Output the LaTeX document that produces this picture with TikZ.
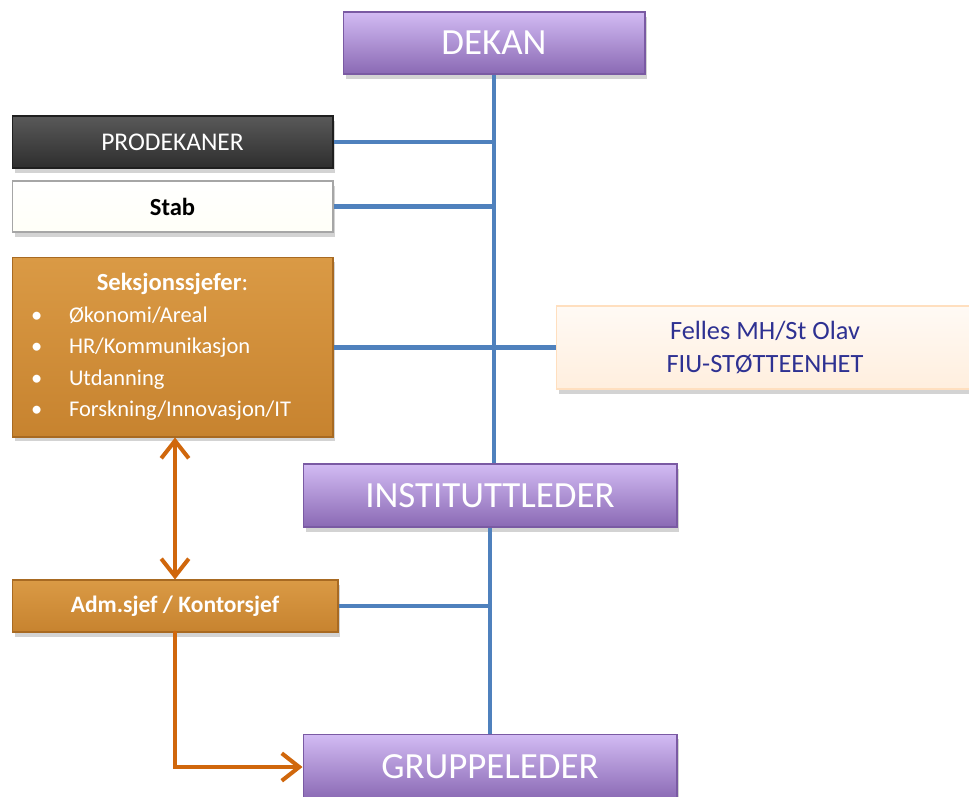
\documentclass[tikz,border=0pt]{standalone}
\usepackage{fontspec}
\setmainfont{Carlito}
\usetikzlibrary{shadows,arrows.meta}

\definecolor{lineblue}{HTML}{4F81BD}
\definecolor{arrorange}{HTML}{D0670C}
\definecolor{lilatop}{HTML}{D2BBF3}
\definecolor{lilabot}{HTML}{8A69B4}
\definecolor{lilaedge}{HTML}{7A5AA3}
\definecolor{orangetop}{HTML}{DA9A45}
\definecolor{orangebot}{HTML}{C7832F}
\definecolor{orangeedge}{HTML}{A86A22}
\definecolor{fellestext}{HTML}{2E3192}

% one bullet line in the section box
\newcommand\SeksItem[1]{\makebox[6.42cm][l]{\hspace{0.38cm}\makebox[0.76cm][l]{\textbullet}#1}}

\begin{document}
\begin{tikzpicture}[x=0.02cm,y=-0.02cm]
  \tikzset{>={Straight Barb[length=3.5mm,width=5.5mm]}}
  \tikzset{
    box/.style={rectangle,inner sep=0pt,align=center,line width=0.6pt,
      drop shadow={shadow xshift=0.5mm,shadow yshift=-0.9mm,opacity=0.35}},
    lila/.style={box,top color=lilatop,bottom color=lilabot,draw=lilaedge,
      text=white,font=\fontsize{21}{25}\selectfont},
    mork/.style={box,top color=black!65,bottom color=black!82,draw=black!88,
      text=white,font=\fontsize{14.5}{17}\selectfont},
    hvit/.style={box,top color=white,bottom color=yellow!3!white,draw=black!35,
      font=\fontsize{14}{17}\selectfont\bfseries},
    oransje/.style={box,top color=orangetop,bottom color=orangebot,draw=orangeedge,
      text=white},
    felles/.style={box,top color=orange!4,bottom color=orange!13,draw=orange!25,
      text=fellestext,font=\fontsize{15}{19}\selectfont},
    blueline/.style={draw=lineblue,line width=2.3pt},
    orangeline/.style={draw=arrorange,line width=2.3pt,line cap=round},
  }
  % fix the page to the size of the reference
  \useasboundingbox (0,0) rectangle (969,796);
  \clip (0,0) rectangle (969,796);

  % the line of command
  \node[lila,minimum width=6.04cm,minimum height=1.24cm] (dekan) at (494,43) {DEKAN};
  \node[lila,minimum width=7.48cm,minimum height=1.26cm] (instleder) at (490,495.5) {INSTITUTTLEDER};
  \node[lila,minimum width=7.48cm,minimum height=1.30cm] (gruppe) at (490,767) {GRUPPELEDER};

  % staff boxes on the left
  \node[mork,minimum width=6.42cm,minimum height=1.04cm] (prodekaner) at (172.5,142) {PRODEKANER};
  \node[hvit,minimum width=6.42cm,minimum height=1.02cm] (stab) at (172.5,206.5) {Stab};
  \node[oransje,minimum width=6.42cm,minimum height=3.6cm,
    font=\fontsize{12.8}{18}\selectfont] (seksjon) at (172.5,347)
    {{\fontsize{14}{18}\selectfont\textbf{Seksjonssjefer}:}\\
     \SeksItem{Økonomi/Areal}\\
     \SeksItem{HR/Kommunikasjon}\\
     \SeksItem{Utdanning}\\
     \SeksItem{Forskning/Innovasjon/IT}};
  \node[oransje,minimum width=6.52cm,minimum height=1.04cm,
    font=\fontsize{13.4}{17}\selectfont\bfseries] (adm) at (175,606) {Adm.sjef / Kontorsjef};

  % shared unit on the right
  \node[felles,minimum width=8.36cm,minimum height=1.66cm] (felles) at (765,347.5)
    {Felles MH/St Olav\\FIU-STØTTEENHET};

  % blue connectors
  \draw[blueline] (dekan.south) -- (dekan.south |- instleder.north);
  \draw[blueline] (instleder.south) -- (gruppe.north);
  \draw[blueline] (prodekaner.east) -- (prodekaner.east -| dekan.south);
  \draw[blueline] (stab.east) -- (stab.east -| dekan.south);
  \draw[blueline] (seksjon.east |- felles.west) -- (felles.west);
  \draw[blueline] (adm.east) -- (adm.east -| instleder.south);

  % orange arrows
  \draw[orangeline,<->] (seksjon.south -| adm.north) -- (adm.north);
  \draw[orangeline,->] (adm.south) |- (gruppe.west);
\end{tikzpicture}
\end{document}
